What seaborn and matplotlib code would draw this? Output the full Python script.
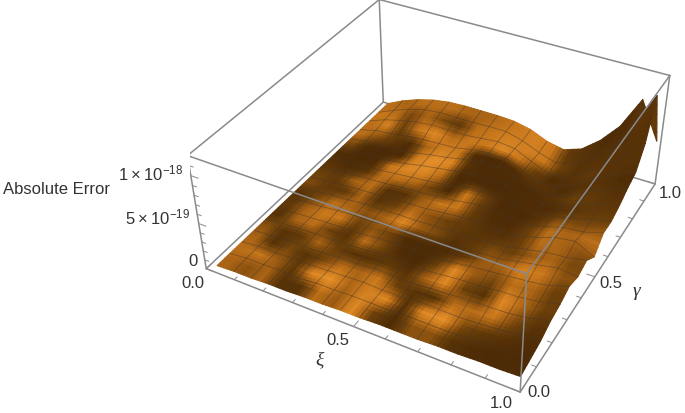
import numpy as np
import matplotlib
matplotlib.use("Agg")
import matplotlib.pyplot as plt
import seaborn as sns

W, H = 685, 414

# mesh nodes on xi and gamma
xi = [0.025, 0.085, 0.146, 0.206, 0.266, 0.327, 0.387, 0.447, 0.508, 0.568, 0.628, 0.688, 0.749, 0.809, 0.869, 0.93, 0.99]
gam = [0.02, 0.081, 0.141, 0.202, 0.263, 0.323, 0.384, 0.444, 0.505, 0.566, 0.626, 0.687, 0.748, 0.808, 0.869, 0.929, 0.99]

# absolute error in units of 1e-18, one row per gamma
err = [
    [.02, .03, .03, .04, .04, .05, .05, .06, .06, .07, .07, .07, .08, .08, .09, .09, .10],
    [.02, .04, .04, .05, .04, .06, .06, .07, .07, .07, .08, .08, .08, .09, .10, .12, .13],
    [.02, .04, .04, .05, .05, .06, .07, .08, .07, .07, .09, .09, .09, .10, .12, .14, .16],
    [.02, .03, .05, .05, .05, .07, .07, .09, .08, .08, .10, .11, .12, .13, .14, .17, .22],
    [.02, .04, .05, .06, .06, .07, .08, .10, .09, .09, .11, .13, .14, .16, .17, .20, .25],
    [.02, .04, .05, .06, .07, .07, .09, .10, .10, .09, .11, .14, .16, .18, .20, .23, .30],
    [.02, .04, .05, .07, .08, .08, .10, .11, .10, .11, .13, .15, .16, .20, .24, .28, .26],
    [.02, .04, .06, .07, .09, .09, .10, .10, .11, .12, .12, .14, .16, .20, .24, .26, .30],
    [.02, .04, .06, .07, .08, .10, .10, .11, .13, .15, .16, .14, .15, .20, .27, .30, .20],
    [.02, .04, .06, .07, .08, .10, .11, .13, .15, .18, .19, .16, .15, .19, .25, .27, .33],
    [.02, .04, .05, .06, .08, .10, .12, .14, .18, .20, .21, .17, .15, .18, .22, .28, .33],
    [.02, .04, .05, .06, .08, .12, .15, .18, .21, .22, .21, .15, .13, .18, .25, .32, .38],
    [.02, .05, .06, .07, .09, .13, .16, .20, .23, .24, .18, .10, .10, .16, .28, .36, .45],
    [.02, .07, .09, .12, .14, .15, .16, .20, .22, .22, .14, .06, .07, .17, .30, .42, .50],
    [.02, .09, .14, .18, .20, .20, .20, .22, .24, .22, .13, .05, .07, .18, .32, .50, .70],
    [.02, .10, .17, .22, .24, .24, .24, .25, .25, .20, .12, .06, .12, .24, .42, .70, 1.10],
    [.02, .11, .18, .23, .26, .27, .27, .27, .26, .22, .14, .10, .17, .33, .55, .90, .50],
]

# brightness of each mesh cell
shade = [
    [.50, .40, .50, .20, .20, .55, .45, .70, .30, .15, .40, .40, .20, .15, .12, .12],
    [.55, .60, .45, .25, .70, .75, .50, .65, .70, .20, .70, .75, .35, .25, .20, .15],
    [.50, .20, .35, .20, .35, .55, .50, .60, .30, .20, .20, .55, .55, .60, .35, .20],
    [.40, .20, .25, .50, .30, .20, .20, .25, .20, .50, .70, .30, .20, .70, .50, .30],
    [.20, .50, .55, .30, .20, .55, .35, .15, .10, .30, .70, .45, .35, .55, .50, .30],
    [.25, .50, .60, .60, .30, .40, .30, .12, .12, .15, .25, .45, .50, .65, .60, .40],
    [.20, .35, .55, .50, .40, .50, .70, .45, .35, .20, .25, .35, .30, .45, .50, .35],
    [.35, .25, .25, .50, .20, .30, .55, .40, .30, .25, .20, .20, .30, .55, .50, .40],
    [.30, .25, .50, .55, .20, .20, .45, .60, .60, .25, .15, .15, .30, .55, .50, .55],
    [.20, .15, .20, .55, .55, .50, .30, .12, .60, .30, .12, .12, .20, .40, .35, .35],
    [.15, .10, .15, .60, .70, .70, .55, .12, .10, .10, .12, .15, .15, .20, .25, .25],
    [.35, .10, .10, .15, .65, .75, .70, .20, .12, .12, .12, .15, .20, .30, .25, .20],
    [.55, .40, .25, .15, .50, .65, .60, .15, .10, .15, .20, .20, .15, .20, .20, .15],
    [.55, .65, .30, .60, .70, .55, .60, .60, .70, .60, .30, .15, .20, .25, .20, .20],
    [.60, .55, .35, .50, .35, .25, .55, .60, .65, .65, .60, .30, .20, .20, .20, .20],
    [.55, .50, .55, .55, .55, .50, .50, .55, .60, .65, .60, .25, .20, .15, .15, .25],
]

tick_text = ["0.0", "0.5", "1.0"]
z_text = ["0", r"$1\times10^{-18}$", r"$5\times10^{-19}$"]

sns.set_theme(style="white")
plt.rcParams["font.family"] = ["Liberation Sans", "DejaVu Sans"]
plt.rcParams["mathtext.default"] = "regular"

palette = sns.blend_palette(["#452605", "#4f2c06", "#6a3f0a", "#9a5a12", "#c9781c", "#e5902a"], as_cmap=True)
line_col = "#8a8a8a"
text_col = "#333333"

fig = plt.figure(figsize=(W / 100, H / 100), dpi=100)
ax = fig.add_axes([190.06 / W, -8.61 / H, 488.21 / W, 488.21 / H], projection="3d", computed_zorder=False)
ax.set_xlim(0, 1)
ax.set_ylim(0, 1)
ax.set_zlim(0, 1.2)
ax.view_init(elev=36.528, azim=-61.384, roll=0.214)
ax.set_proj_type("persp", focal_length=0.4344)
ax.set_box_aspect((2.4881, 2.48, 1.0))
ax.set_axis_off()
ax.patch.set_alpha(0)

# smooth shading: split every mesh cell into small flat facets, the shape stays the same
SUB = 5
Z = np.array(err)
S = np.array(shade)
n = Z.shape[0] - 1
nodes = np.linspace(0, n, n * SUB + 1)
centers = (nodes[:-1] + nodes[1:]) / 2
fine_x = np.interp(nodes, np.arange(n + 1), xi)
fine_y = np.interp(nodes, np.arange(n + 1), gam)
fine_z = np.array([np.interp(nodes, np.arange(n + 1), row) for row in Z])
fine_z = np.array([np.interp(nodes, np.arange(n + 1), col) for col in fine_z.T]).T
fine_s = np.array([np.interp(centers, np.arange(n) + 0.5, row) for row in S])
fine_s = np.array([np.interp(centers, np.arange(n) + 0.5, col) for col in fine_s.T]).T

X, Y = np.meshgrid(fine_x, fine_y)
ax.plot_surface(X, Y, fine_z, rstride=1, cstride=1, facecolors=palette(np.clip(fine_s / 0.75, 0, 1)),
                linewidth=0.8, shade=False, zorder=2)

# mesh lines on the inner nodes
mesh_col = (0.27, 0.22, 0.17, 0.55)
for j in range(1, n):
    ax.plot(fine_x, np.full(fine_x.shape, gam[j]), fine_z[j * SUB, :], color=mesh_col, lw=0.55, zorder=2.5)
    ax.plot(np.full(fine_y.shape, xi[j]), fine_y, fine_z[:, j * SUB], color=mesh_col, lw=0.55, zorder=2.5)

# bounding box, back edges under the surface and front edges over it
zt = 1.2
back = [((0, 1, 0), (1, 1, 0)), ((0, 1, 0), (0, 1, zt)), ((0, 0, 0), (0, 1, 0)), ((1, 0, 0), (1, 1, 0)), ((0, 0, 0), (1, 0, 0)), ((0, 0, 0), (0, 0, zt))]
front = [((0, 0, zt), (1, 0, zt)), ((1, 0, zt), (1, 1, zt)), ((0, 0, zt), (0, 1, zt)), ((0, 1, zt), (1, 1, zt)), ((1, 0, 0), (1, 0, zt)), ((1, 1, 0), (1, 1, zt))]
for a, b in back:
    ax.plot(*zip(a, b), color=line_col, lw=1.1, zorder=1)
for a, b in front:
    ax.plot(*zip(a, b), color=line_col, lw=1.1, zorder=3)

# inward ticks
for t in np.arange(0, 1.01, 0.1):
    m = 0.025 if round(t * 10) % 5 == 0 else 0.014
    ax.plot([t, t], [0, m], [0, 0], color=line_col, lw=0.7, zorder=1)
    ax.plot([1, 1 - m], [t, t], [0, 0], color=line_col, lw=0.7, zorder=1)
for t in np.arange(0, 1.21, 0.1):
    m = 0.025 if round(t * 10) % 5 == 0 else 0.014
    ax.plot([0, m], [0, 0], [t, t], color=line_col, lw=0.7, zorder=1)


def label(x, y, s, **kw):
    kw.setdefault("fontsize", 12)
    kw.setdefault("color", text_col)
    kw.setdefault("ha", "center")
    kw.setdefault("va", "center")
    fig.text(x / W, 1 - y / H, s, **kw)


label(193, 284, tick_text[0])
label(338, 341, tick_text[1])
label(501, 404, tick_text[2])
label(539, 393, tick_text[0])
label(611, 283, tick_text[1])
label(670, 193, tick_text[2])
label(198, 262, z_text[0], ha="right")
label(183, 173, z_text[1], ha="right")
label(190, 217, z_text[2], ha="right")
label(3, 189, "Absolute Error", ha="left")
label(320, 360, "ξ", fontsize=14, fontstyle="italic", family="Liberation Serif")
label(636, 292, "γ", fontsize=14, fontstyle="italic", family="Liberation Serif")

fig.savefig("out.png", dpi=100)
